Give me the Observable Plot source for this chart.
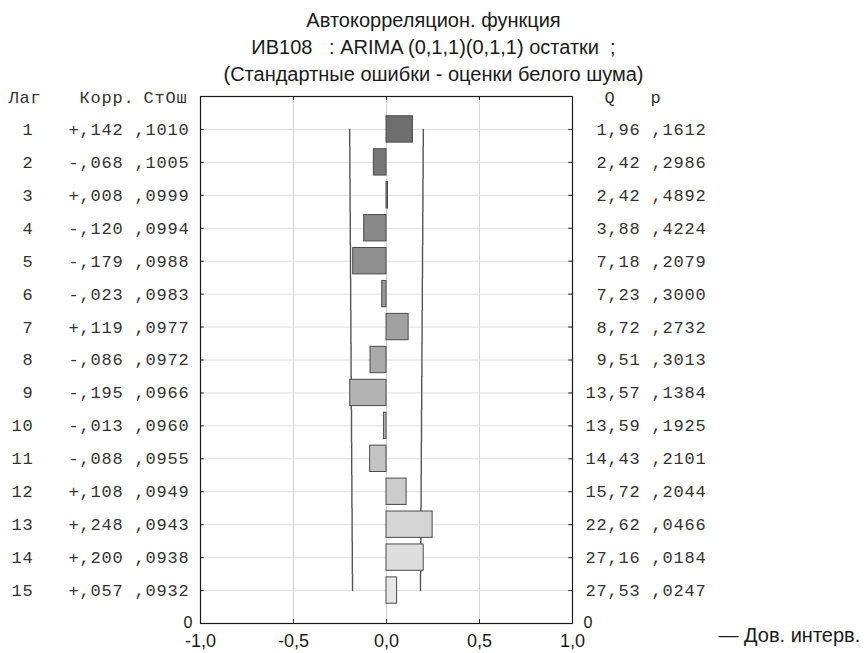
<!DOCTYPE html>
<html><head><meta charset="utf-8">
<script src="https://cdn.jsdelivr.net/npm/d3@7"></script>
<script src="https://cdn.jsdelivr.net/npm/@observablehq/plot@0.6"></script>
<style>
html,body{margin:0;padding:0;background:#fff;}
g[font-family="Liberation Mono"] text{letter-spacing:0.8px;}
</style>
</head><body>
<div id="chart"></div>
<script>
const titleLines = ["Автокорреляцион. функция", "ИВ108   : ARIMA (0,1,1)(0,1,1) остатки  ;", "(Стандартные ошибки - оценки белого шума)"];
const lags = [1,2,3,4,5,6,7,8,9,10,11,12,13,14,15];
const corr = [0.142,-0.068,0.008,-0.120,-0.179,-0.023,0.119,-0.086,-0.195,-0.013,-0.088,0.108,0.248,0.200,0.057];
const stdErr = [0.1010,0.1005,0.0999,0.0994,0.0988,0.0983,0.0977,0.0972,0.0966,0.0960,0.0955,0.0949,0.0943,0.0938,0.0932];
const qStat = [1.96,2.42,2.42,3.88,7.18,7.23,8.72,9.51,13.57,13.59,14.43,15.72,22.62,27.16,27.53];
const pVal = [0.1612,0.2986,0.4892,0.4224,0.2079,0.3000,0.2732,0.3013,0.1384,0.1925,0.2101,0.2044,0.0466,0.0184,0.0247];
const xTicks = [-1,-0.5,0,0.5,1];
const leftHeaders = ["Лаг","Корр.","СтОш"];
const rightHeaders = ["Q","p"];
const legendText = "— Дов. интерв.";
const zeroLabel = "0";
const confZ = 1.96;

const rows = lags.map((lag,i)=>({lag, corr:corr[i], se:stdErr[i], q:qStat[i], p:pVal[i]}));
const frac = (v,d)=>d3.format("."+d+"f")(v).replace(/^0\./,",");
const corrText = d => (d.corr>=0?"+":"-") + frac(Math.abs(d.corr),3) + " " + frac(d.se,4);
const qpText = d => d3.format(".2f")(d.q).replace(".",",") + " " + frac(d.p,4);
const tickText = d => d3.format(".1f")(d).replace(".",",").replace("\u2212","-");

function stepY(context){
  let x0,y0,n=0;
  return {
    areaStart(){}, areaEnd(){},
    lineStart(){n=0;}, lineEnd(){},
    point(x,y){
      x=+x;y=+y;
      if(n++===0) context.moveTo(x,y);
      else { const ym=(y0+y)/2; context.lineTo(x0,ym); context.lineTo(x,ym); context.lineTo(x,y); }
      x0=x;y0=y;
    }
  };
}

const mono = {fontFamily:"Liberation Mono", fontSize:17, fill:"#333"};
const sans = {fontFamily:"Liberation Sans", fontSize:16, fill:"#1a1a1a"};
const x0 = xTicks[0], x1 = xTicks[xTicks.length-1];
const yTop = 0, yBottom = lags.length+1;

const chart = Plot.plot({
  width: 867, height: 653,
  marginTop: 96, marginBottom: 30, marginLeft: 200, marginRight: 295,
  style: {fontFamily:"Liberation Sans", fontSize:"18px", color:"#1a1a1a", background:"#fff"},
  x: {domain:[x0,x1], ticks: xTicks, tickFormat: tickText, tickSize:0, tickPadding:11, label:null},
  y: {domain:[yTop,yBottom], reverse:true, axis:null},
  color: {type:"linear", domain:[lags[0], lags[lags.length-1]], range:["#6e6e6e","#e6e6e6"]},
  marks: [
    Plot.ruleX(xTicks.slice(1,-1), {stroke:"#d4d4d4", strokeWidth:1}),
    Plot.ruleY(lags, {stroke:"#dedede", strokeWidth:1}),
    Plot.ruleY(lags, {x1:x0, x2:x0+0.02, stroke:"#222"}),
    Plot.ruleY(lags, {x1:x1-0.02, x2:x1, stroke:"#222"}),
    Plot.ruleX(xTicks.slice(1,-1), {y1:yTop, y2:yTop+0.12, stroke:"#222"}),
    Plot.ruleX(xTicks.slice(1,-1), {y1:yBottom-0.12, y2:yBottom, stroke:"#222"}),
    Plot.line(rows, {x:d=>-confZ*d.se, y:"lag", curve:stepY, stroke:"#555", strokeWidth:1.4}),
    Plot.line(rows, {x:d=> confZ*d.se, y:"lag", curve:stepY, stroke:"#555", strokeWidth:1.4}),
    Plot.rect(rows, {x1:0, x2:"corr", y1:d=>d.lag-0.4, y2:d=>d.lag+0.4, fill:"lag", stroke:"#4a4a4a", strokeWidth:1}),
    Plot.frame({stroke:"#1a1a1a", strokeWidth:1.2}),
    // left table
    Plot.text(rows, {y:"lag", text:d=>String(d.lag), frameAnchor:"left", textAnchor:"end", dx:-167, ...mono}),
    Plot.text(rows, {y:"lag", text:corrText, frameAnchor:"left", textAnchor:"end", dx:-11, ...mono}),
    Plot.text(rows, {y:"lag", text:qpText, frameAnchor:"right", textAnchor:"end", dx:134, ...mono}),
    // headers
    Plot.text([leftHeaders[0]], {y:yTop, text:d=>d, frameAnchor:"left", textAnchor:"start", dx:-192, dy:1, ...mono}),
    Plot.text([leftHeaders[1]], {y:yTop, text:d=>d, frameAnchor:"left", textAnchor:"start", dx:-121, dy:1, ...mono}),
    Plot.text([leftHeaders[2]], {y:yTop, text:d=>d, frameAnchor:"left", textAnchor:"start", dx:-57, dy:1, ...mono}),
    Plot.text([rightHeaders[0]], {y:yTop, text:d=>d, frameAnchor:"right", textAnchor:"start", dx:32, dy:1, ...mono}),
    Plot.text([rightHeaders[1]], {y:yTop, text:d=>d, frameAnchor:"right", textAnchor:"start", dx:78, dy:1, ...mono}),
    // bottom zero labels
    Plot.text([zeroLabel], {y:yBottom, text:d=>d, frameAnchor:"left", textAnchor:"end", dx:-8, dy:-1, ...sans}),
    Plot.text([zeroLabel], {y:yBottom, text:d=>d, frameAnchor:"right", textAnchor:"start", dx:11, dy:-1, ...sans}),
    // title
    Plot.text([titleLines.join("\n")], {text:d=>d, frameAnchor:"top", lineAnchor:"middle", dx:47, dy:-51, lineHeight:1.35, textAnchor:"middle", ...sans, fontSize:20}),
    // legend
    Plot.text([legendText], {text:d=>d, frameAnchor:"bottom-right", textAnchor:"start", dx:146, dy:18, ...sans, fontSize:20})
  ]
});
document.getElementById("chart").appendChild(chart);
</script>
</body></html>
